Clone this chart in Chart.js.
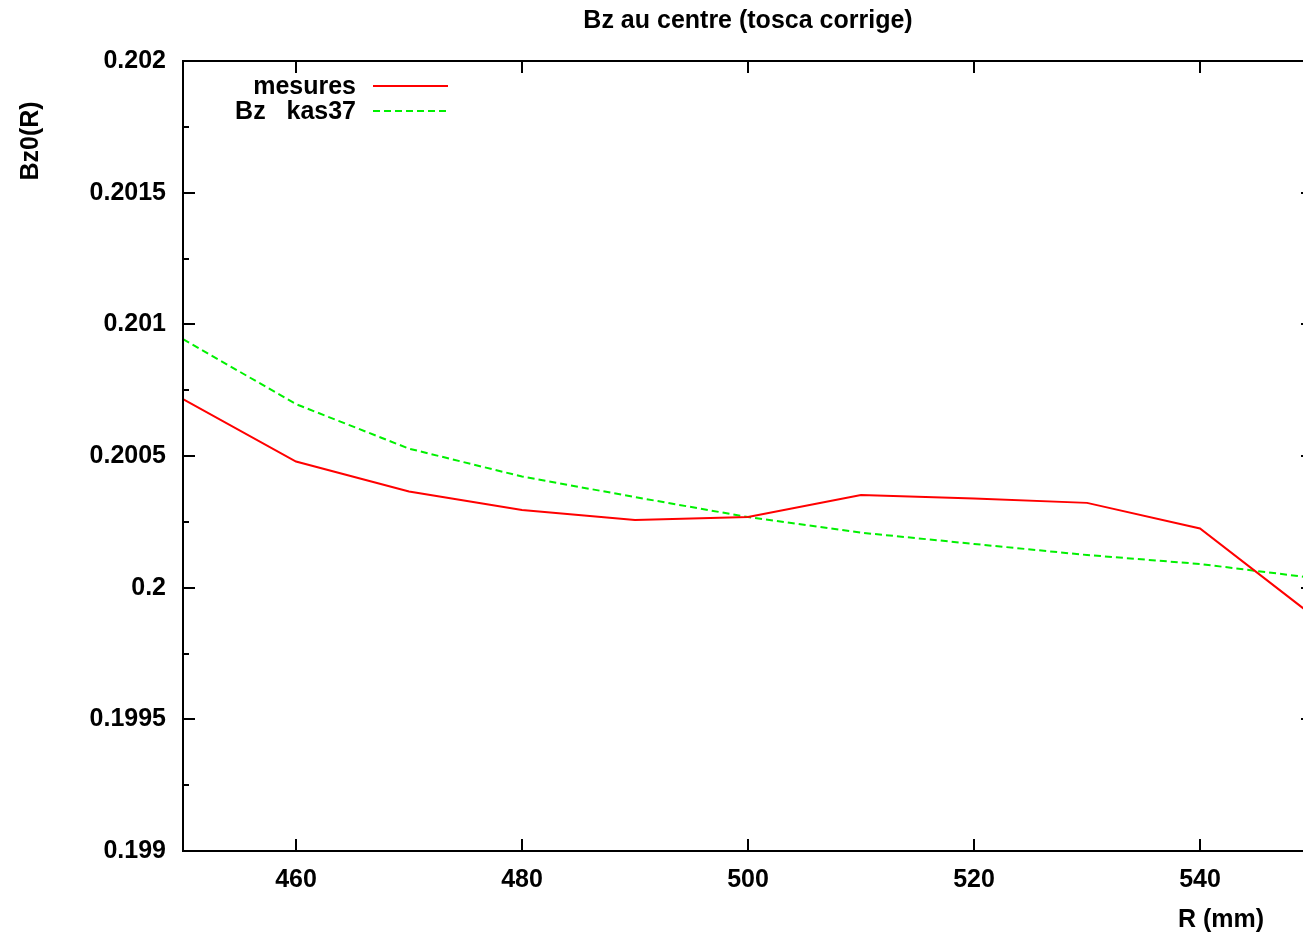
<!DOCTYPE html>
<html>
<head>
<meta charset="utf-8">
<script src="https://cdn.jsdelivr.net/npm/chart.js@4.4.1/dist/chart.umd.min.js"></script>
<style>
  html, body { margin: 0; padding: 0; background: #fff; overflow: hidden; }
  canvas { display: block; }
</style>
</head>
<body>
<canvas id="bzChart" width="1330" height="934"></canvas>
<script>
// valeurs
const rValues = [450, 460, 470, 480, 490, 500, 510, 520, 530, 540, 550];
const mesures = [0.200716, 0.200479, 0.200365, 0.200295, 0.200257, 0.200268, 0.200352, 0.200339, 0.200322, 0.200225, 0.199893];
const kas37 = [0.200944, 0.200697, 0.200528, 0.200422, 0.200344, 0.200268, 0.200209, 0.200166, 0.200124, 0.200090, 0.200037];

const xTickValues = [460, 480, 500, 520, 540];
const yTickValues = [0.199, 0.1995, 0.2, 0.2005, 0.201, 0.2015, 0.202];
const yTickLabels = ['0.199', '0.1995', '0.2', '0.2005', '0.201', '0.2015', '0.202'];

const FONT = '"Liberation Sans", Arial, sans-serif';

function toPoints(ys) {
    return rValues.map((r, i) => ({ x: r, y: ys[i] }));
}

// cadre, graduations intérieures, titres et légende façon gnuplot
const gnuplotFrame = {
    id: 'gnuplotFrame',
    afterDraw(chart) {
        const ctx = chart.ctx;
        const a = chart.chartArea;
        const xs = chart.scales.x;
        const ys = chart.scales.y;
        ctx.save();
        ctx.strokeStyle = '#000';
        ctx.lineWidth = 2;
        ctx.strokeRect(a.left, a.top, a.right - a.left, a.bottom - a.top);

        ctx.beginPath();
        xTickValues.forEach(v => {
            const px = Math.round(xs.getPixelForValue(v));
            ctx.moveTo(px, a.bottom); ctx.lineTo(px, a.bottom - 12);
            ctx.moveTo(px, a.top); ctx.lineTo(px, a.top + 12);
        });
        yTickValues.forEach((v, i) => {
            const py = Math.round(ys.getPixelForValue(v));
            ctx.moveTo(a.left, py); ctx.lineTo(a.left + 12, py);
            ctx.moveTo(a.right, py); ctx.lineTo(a.right - 12, py);
            if (i < yTickValues.length - 1) {
                const m = Math.round(ys.getPixelForValue((v + yTickValues[i + 1]) / 2));
                ctx.moveTo(a.left, m); ctx.lineTo(a.left + 6, m);
                ctx.moveTo(a.right, m); ctx.lineTo(a.right - 6, m);
            }
        });
        ctx.stroke();

        ctx.fillStyle = '#000';
        ctx.font = 'bold 25px ' + FONT;
        ctx.textBaseline = 'alphabetic';
        ctx.textAlign = 'center';
        ctx.fillText('Bz au centre (tosca corrige)', (a.left + a.right) / 2, 28);
        ctx.fillText('R (mm)', 1221, 927);

        ctx.save();
        ctx.translate(38, 141);
        ctx.rotate(-Math.PI / 2);
        ctx.fillText('Bz0(R)', 0, 0);
        ctx.restore();

        // légende
        ctx.textAlign = 'right';
        ctx.textBaseline = 'middle';
        chart.data.datasets.forEach((ds, i) => {
            const y = 86 + i * 25;
            ctx.fillText(ds.label, 356, y + 1);
            ctx.beginPath();
            ctx.strokeStyle = ds.borderColor;
            ctx.lineWidth = ds.borderWidth;
            ctx.setLineDash(ds.borderDash || []);
            ctx.moveTo(373, y);
            ctx.lineTo(448, y);
            ctx.stroke();
            ctx.setLineDash([]);
        });
        ctx.restore();
    }
};

new Chart(document.getElementById('bzChart'), {
    type: 'line',
    data: {
        datasets: [{
            label: 'mesures',
            data: toPoints(mesures),
            borderColor: '#ff0000',
            borderWidth: 2,
            pointRadius: 0,
            tension: 0,
            fill: false
        }, {
            label: 'Bz   kas37',
            data: toPoints(kas37),
            borderColor: '#00f000',
            borderWidth: 2,
            borderDash: [7, 4],
            pointRadius: 0,
            tension: 0,
            fill: false
        }]
    },
    options: {
        responsive: false,
        animation: false,
        layout: { padding: { top: 61, right: 17, left: 0, bottom: 0 } },
        plugins: {
            legend: { display: false },
            tooltip: { enabled: false },
            title: { display: false }
        },
        scales: {
            x: {
                type: 'linear',
                min: 450,
                max: 550,
                afterBuildTicks: s => { s.ticks = xTickValues.map(v => ({ value: v })); },
                afterFit: s => { s.height = 83; },
                ticks: {
                    color: '#000',
                    padding: 14,
                    maxRotation: 0,
                    autoSkip: false,
                    font: { family: FONT, size: 25, weight: 'bold' }
                },
                grid: { display: false, drawTicks: false },
                border: { display: false }
            },
            y: {
                min: 0.199,
                max: 0.202,
                afterBuildTicks: s => { s.ticks = yTickValues.map(v => ({ value: v })); },
                afterFit: s => { s.width = 183; },
                ticks: {
                    color: '#000',
                    padding: 17,
                    autoSkip: false,
                    callback: (v, i) => yTickLabels[i],
                    font: { family: FONT, size: 25, weight: 'bold' }
                },
                grid: { display: false, drawTicks: false },
                border: { display: false }
            }
        }
    },
    plugins: [gnuplotFrame]
});
</script>
</body>
</html>
